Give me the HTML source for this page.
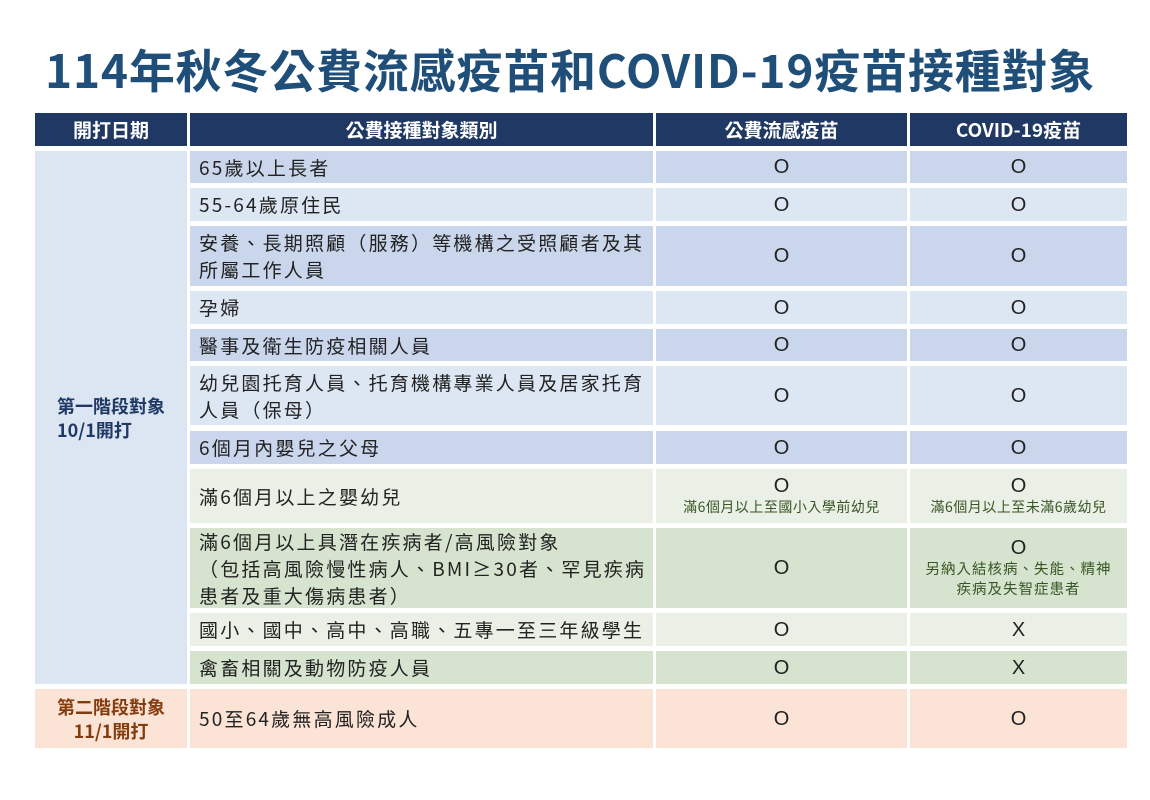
<!DOCTYPE html>
<html><head><meta charset="utf-8"><style>
body{margin:0;width:1150px;height:800px;background:#fff;overflow:hidden;font-family:"Noto Sans CJK TC","Liberation Sans",sans-serif;position:relative}
.t{position:absolute;left:45px;top:36px;font-size:46px;font-weight:bold;color:#1f4e79;white-space:nowrap;letter-spacing:0.8px;line-height:66px}
.c{position:absolute;display:flex;align-items:center;box-sizing:border-box}
.h{background:#1f3864;color:#fff;font-weight:bold;font-size:19px;justify-content:center}
.l{padding-left:9px;font-size:19px;color:#222;letter-spacing:2.2px;line-height:27px}
.m{justify-content:center;flex-direction:column;font-size:20px;color:#222;text-align:center;font-family:"Liberation Sans",sans-serif;line-height:24px}
.s{font-size:14px;color:#375623;line-height:20px;letter-spacing:0.5px;font-family:"Noto Sans CJK TC",sans-serif}
.b1{background:#c9d6ec}.b2{background:#dde7f4}.g1{background:#ebf0e7}.g2{background:#d6e4cf}.p{background:#fbe3d6}
</style></head><body>
<div class="t">114年秋冬公費流感疫苗和COVID-19疫苗接種對象</div>
<div class="c h" style="left:35px;top:113px;width:152px;height:33px">開打日期</div>
<div class="c h" style="left:190px;top:113px;width:463px;height:33px">公費接種對象類別</div>
<div class="c h" style="left:656px;top:113px;width:251px;height:33px">公費流感疫苗</div>
<div class="c h" style="left:910px;top:113px;width:217px;height:33px">COVID-19疫苗</div>
<div class="c" style="left:35px;top:151px;width:152px;height:533px;background:#dce6f2;justify-content:center;flex-direction:column;color:#1f3864;font-weight:bold;font-size:18px;line-height:24px">第一階段對象<br>10/1開打</div>
<div class="c" style="left:35px;top:689px;width:152px;height:59px;background:#fbe3d6;justify-content:center;flex-direction:column;color:#843c0c;font-weight:bold;font-size:18px;line-height:24px;text-align:center">第二階段對象<br>11/1開打</div>

<div class="c l b1" style="left:190px;top:151px;width:463px;height:32px">65歲以上長者</div>
<div class="c m b1" style="left:656px;top:151px;width:251px;height:32px">O</div>
<div class="c m b1" style="left:910px;top:151px;width:217px;height:32px">O</div>

<div class="c l b2" style="left:190px;top:188px;width:463px;height:33px">55-64歲原住民</div>
<div class="c m b2" style="left:656px;top:188px;width:251px;height:33px">O</div>
<div class="c m b2" style="left:910px;top:188px;width:217px;height:33px">O</div>

<div class="c l b1" style="left:190px;top:226px;width:463px;height:60px">安養、長期照顧（服務）等機構之受照顧者及其<br>所屬工作人員</div>
<div class="c m b1" style="left:656px;top:226px;width:251px;height:60px">O</div>
<div class="c m b1" style="left:910px;top:226px;width:217px;height:60px">O</div>

<div class="c l b2" style="left:190px;top:291px;width:463px;height:33px">孕婦</div>
<div class="c m b2" style="left:656px;top:291px;width:251px;height:33px">O</div>
<div class="c m b2" style="left:910px;top:291px;width:217px;height:33px">O</div>

<div class="c l b1" style="left:190px;top:329px;width:463px;height:32px">醫事及衛生防疫相關人員</div>
<div class="c m b1" style="left:656px;top:329px;width:251px;height:32px">O</div>
<div class="c m b1" style="left:910px;top:329px;width:217px;height:32px">O</div>

<div class="c l b2" style="left:190px;top:366px;width:463px;height:59px">幼兒園托育人員、托育機構專業人員及居家托育<br>人員（保母）</div>
<div class="c m b2" style="left:656px;top:366px;width:251px;height:59px">O</div>
<div class="c m b2" style="left:910px;top:366px;width:217px;height:59px">O</div>

<div class="c l b1" style="left:190px;top:431px;width:463px;height:33px">6個月內嬰兒之父母</div>
<div class="c m b1" style="left:656px;top:431px;width:251px;height:33px">O</div>
<div class="c m b1" style="left:910px;top:431px;width:217px;height:33px">O</div>

<div class="c l g1" style="left:190px;top:469px;width:463px;height:54px">滿6個月以上之嬰幼兒</div>
<div class="c m g1" style="left:656px;top:469px;width:251px;height:54px;line-height:22px">O<span class="s">滿6個月以上至國小入學前幼兒</span></div>
<div class="c m g1" style="left:910px;top:469px;width:217px;height:54px;line-height:22px">O<span class="s">滿6個月以上至未滿6歲幼兒</span></div>

<div class="c l g2" style="left:190px;top:528px;width:463px;height:80px">滿6個月以上具潛在疾病者/高風險對象<br>（包括高風險慢性病人、BMI≥30者、罕見疾病<br>患者及重大傷病患者）</div>
<div class="c m g2" style="left:656px;top:528px;width:251px;height:80px">O</div>
<div class="c m g2" style="left:910px;top:528px;width:217px;height:80px;line-height:22px">O<span class="s" style="font-size:14.5px;letter-spacing:1px">另納入結核病、失能、精神<br>疾病及失智症患者</span></div>

<div class="c l g1" style="left:190px;top:613px;width:463px;height:33px">國小、國中、高中、高職、五專一至三年級學生</div>
<div class="c m g1" style="left:656px;top:613px;width:251px;height:33px">O</div>
<div class="c m g1" style="left:910px;top:613px;width:217px;height:33px">X</div>

<div class="c l g2" style="left:190px;top:651px;width:463px;height:33px">禽畜相關及動物防疫人員</div>
<div class="c m g2" style="left:656px;top:651px;width:251px;height:33px">O</div>
<div class="c m g2" style="left:910px;top:651px;width:217px;height:33px">X</div>

<div class="c l p" style="left:190px;top:689px;width:463px;height:59px">50至64歲無高風險成人</div>
<div class="c m p" style="left:656px;top:689px;width:251px;height:59px">O</div>
<div class="c m p" style="left:910px;top:689px;width:217px;height:59px">O</div>
</body></html>
